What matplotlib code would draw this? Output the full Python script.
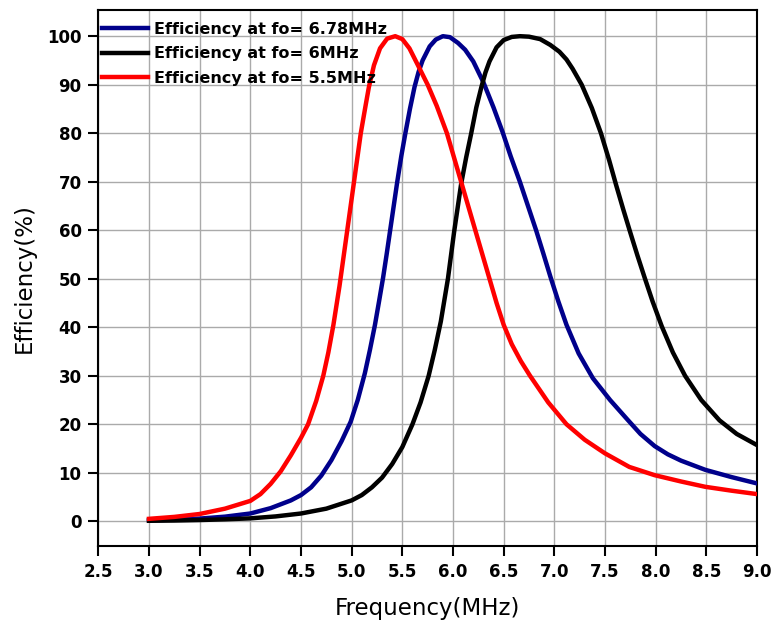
import matplotlib
matplotlib.use("Agg")
import matplotlib.pyplot as plt

plt.rcParams['font.family'] = ['DejaVu Sans']

# Efficiency curves (frequency in MHz, efficiency in %)
freq_678 = [3.0, 3.25, 3.5, 3.75, 4.0, 4.2, 4.4, 4.5, 4.6, 4.7, 4.8, 4.9, 4.99,
            5.06, 5.13, 5.18, 5.23, 5.27, 5.31, 5.345, 5.38, 5.415, 5.45, 5.49, 5.53,
            5.575, 5.62, 5.66, 5.70, 5.77, 5.83, 5.90, 5.97, 6.05, 6.12, 6.20, 6.30,
            6.40, 6.49, 6.57, 6.66, 6.74, 6.82, 6.89, 6.96, 7.04, 7.12, 7.24, 7.38,
            7.55, 7.72, 7.85, 7.99, 8.12, 8.25, 8.49, 8.75, 9.0]
eff_678 = [0.2, 0.35, 0.55, 0.95, 1.6, 2.7, 4.3, 5.4, 7.0, 9.4, 12.6, 16.5, 20.5,
           25, 30.5, 35.3, 40.5, 45.3, 50.2, 55, 60, 65, 70, 75.3, 80,
           85, 89.5, 92.6, 95, 97.9, 99.3, 100, 99.8, 98.6, 97.2, 94.8, 90.5,
           85.3, 80.2, 75.2, 70, 65, 60, 55.3, 50.5, 45.3, 40.5, 34.6, 29.5,
           25, 21, 18, 15.5, 13.8, 12.5, 10.6, 9.1, 7.8]

freq_6 = [3.0, 3.25, 3.5, 3.75, 4.0, 4.25, 4.5, 4.75, 5.0, 5.1, 5.2, 5.3, 5.4,
          5.5, 5.6, 5.68, 5.76, 5.82, 5.88, 5.95, 6.01, 6.08, 6.13, 6.18, 6.23,
          6.28, 6.32, 6.36, 6.43, 6.50, 6.58, 6.66, 6.75, 6.86, 6.96, 7.05, 7.12,
          7.18, 7.27, 7.37, 7.46, 7.54, 7.61, 7.68, 7.75, 7.82, 7.89, 7.97, 8.06,
          8.17, 8.29, 8.45, 8.63, 8.80, 9.0]
eff_6 = [0.1, 0.15, 0.25, 0.4, 0.6, 1.0, 1.6, 2.6, 4.3, 5.4, 7.0, 9.0, 11.8,
         15.3, 20, 24.5, 30, 35.3, 41.2, 50, 59.5, 69.5, 75, 80, 85.3,
         89.5, 92.5, 94.8, 97.7, 99.2, 99.85, 100, 99.9, 99.4, 98.2, 96.8, 95.2,
         93.3, 90, 85.2, 80, 74.5, 69.3, 64.3, 59.5, 54.8, 50.3, 45.3, 40.2,
         34.8, 30, 25, 20.8, 18, 15.7]

freq_55 = [3.0, 3.25, 3.5, 3.75, 4.0, 4.1, 4.2, 4.3, 4.4, 4.5, 4.57, 4.65, 4.72,
           4.77, 4.82, 4.88, 4.95, 5.02, 5.09, 5.14, 5.17, 5.22, 5.28, 5.35, 5.43,
           5.50, 5.57, 5.64, 5.75, 5.84, 5.94, 6.01, 6.08, 6.15, 6.22, 6.29, 6.36,
           6.43, 6.50, 6.58, 6.67, 6.76, 6.94, 7.12, 7.30, 7.50, 7.74, 7.99, 8.25,
           8.49, 8.75, 9.0]
eff_55 = [0.5, 0.9, 1.5, 2.6, 4.2, 5.6, 7.7, 10.3, 13.6, 17.2, 20, 24.8, 30,
          34.8, 40.5, 48.5, 59, 69.5, 80, 86, 89.5, 94, 97.5, 99.5, 100,
          99.4, 97.5, 94.6, 90, 85.6, 80, 75, 70, 65, 60, 55, 50,
          45, 40.5, 36.5, 33, 30, 24.5, 20, 16.8, 14, 11.2, 9.5, 8.2,
          7.1, 6.3, 5.6]

series = [
    ("Efficiency at fo= 6.78MHz", freq_678, eff_678, "#00008B"),
    ("Efficiency at fo= 6MHz", freq_6, eff_6, "black"),
    ("Efficiency at fo= 5.5MHz", freq_55, eff_55, "red"),
]

fig = plt.figure(figsize=(7.73, 6.25), dpi=100)
ax = fig.add_axes([0.1272, 0.1264, 0.8521, 0.8576])

for label, x, y, c in series:
    ax.plot(x, y, color=c, lw=3.2, label=label, solid_joinstyle='round', zorder=3)

ax.set_xlim(2.5, 9.0)
ax.set_ylim(-5.1, 105.4)
ax.set_xticks([2.5 + 0.5 * i for i in range(14)])
ax.set_xticklabels([f"{2.5 + 0.5 * i:.1f}" for i in range(14)])
ax.set_yticks(range(0, 101, 10))

ax.grid(True, color='#aaaaaa', lw=1.0)
ax.set_axisbelow(True)

for s in ax.spines.values():
    s.set_linewidth(1.5)
ax.tick_params(direction='out', length=7, width=1.5, labelsize=12, pad=5)
for lbl in ax.get_xticklabels() + ax.get_yticklabels():
    lbl.set_fontweight('bold')

ax.set_xlabel("Frequency(MHz)", fontsize=16.5, labelpad=12)
ax.set_ylabel("Efficiency(%)", fontsize=16.5, labelpad=8)

leg = ax.legend(loc='upper left', bbox_to_anchor=(0.0, 0.985), frameon=False,
                handlelength=2.85, handletextpad=0.38, labelspacing=0.58,
                borderaxespad=0.0, borderpad=0.25,
                prop={'weight': 'bold', 'size': 11.5})

fig.savefig("out.png", dpi=100)
